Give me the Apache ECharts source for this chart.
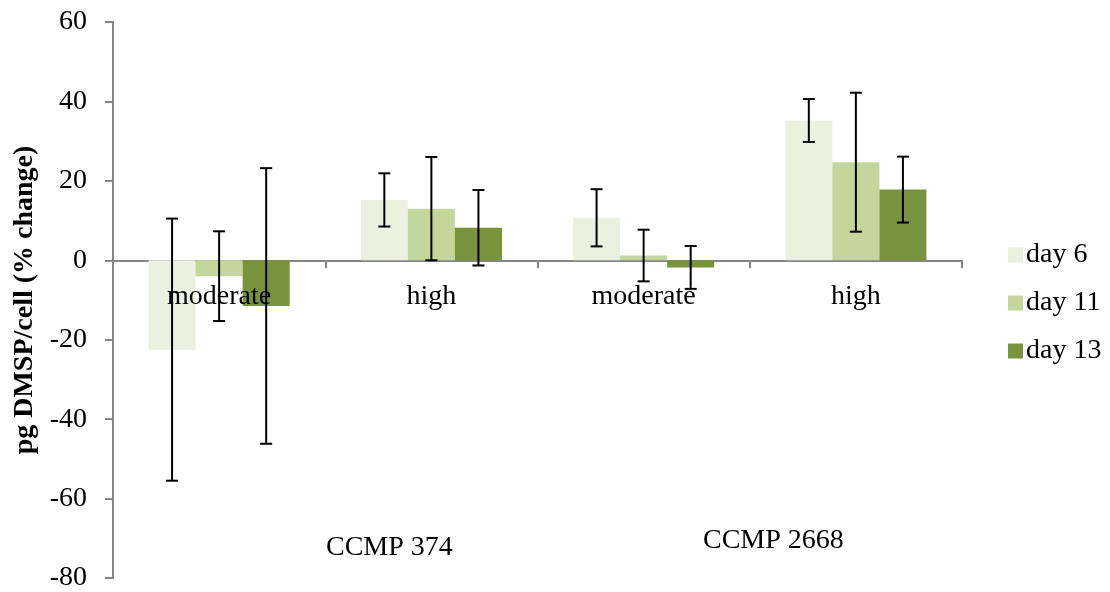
<!DOCTYPE html>
<html>
<head>
<meta charset="utf-8">
<script src="https://cdn.jsdelivr.net/npm/echarts@6/dist/echarts.min.js"></script>
<style>html,body{margin:0;padding:0;background:#fff}#c{width:1110px;height:592px}</style>
</head>
<body>
<div id="c"></div>
<script>
const categories = ['moderate', 'high', 'moderate', 'high'];
const groupLabels = ['CCMP 374', 'CCMP 2668'];
const seriesNames = ['day 6', 'day 11', 'day 13'];
const day6 = [-22.5, 15.2, 10.7, 35.2];
const day11 = [-4.0, 13.0, 1.2, 24.7];
const day13 = [-11.5, 8.2, -1.8, 17.8];
const err6 = [33.0, 6.7, 7.2, 5.4];
const err11 = [11.3, 13.0, 6.5, 17.5];
const err13 = [34.7, 9.5, 5.4, 8.3];
const colors = ['#EBF1DE', '#C3D69B', '#77933C'];

const FONT = '"Liberation Serif", "Times New Roman", serif';
const values = [day6, day11, day13];
const errs = [err6, err11, err13];
const GAP = 0.335;

const chart = echarts.init(document.getElementById('c'));

function errSeries(k) {
  return {
    type: 'custom',
    name: seriesNames[k] + ' err',
    silent: true,
    z: 10,
    data: values[k].map((v, i) => [i, v, errs[k][i]]),
    renderItem: function (params, api) {
      const i = api.value(0), v = api.value(1), e = api.value(2);
      const catW = api.size([1, 0])[0];
      const barW = catW * (1 - GAP) / 3;
      const cx = api.coord([i, v])[0] + (k - 1) * barW;
      const top = api.coord([i, v + e])[1];
      const bot = api.coord([i, v - e])[1];
      const cap = 6;
      const st = { stroke: '#000', lineWidth: 2 };
      return {
        type: 'group',
        children: [
          { type: 'line', shape: { x1: cx, y1: top, x2: cx, y2: bot }, style: st },
          { type: 'line', shape: { x1: cx - cap, y1: top, x2: cx + cap, y2: top }, style: st },
          { type: 'line', shape: { x1: cx - cap, y1: bot, x2: cx + cap, y2: bot }, style: st }
        ]
      };
    }
  };
}

const catLabelSeries = {
  type: 'custom',
  name: 'category labels',
  silent: true,
  z: 20,
  data: categories.map((c, i) => [i, 0]),
  renderItem: function (params, api) {
    const p = api.coord([api.value(0), 0]);
    return {
      type: 'text',
      x: p[0],
      y: p[1] + 22,
      style: { text: categories[params.dataIndex], font: '28px ' + FONT, fill: '#000', align: 'center', verticalAlign: 'top' }
    };
  }
};

const barSeries = seriesNames.map((n, k) => ({
  type: 'bar',
  name: n,
  data: values[k],
  barGap: '0%',
  barCategoryGap: (GAP * 100) + '%',
  itemStyle: { color: colors[k] },
  emphasis: { disabled: true }
}));

chart.setOption({
  animation: false,
  textStyle: { fontFamily: FONT },
  grid: { left: 113, right: 148, top: 22, bottom: 14, containLabel: false, outerBoundsMode: 'none' },
  legend: {
    data: seriesNames,
    orient: 'vertical',
    left: 1003,
    top: 236,
    itemWidth: 15,
    itemHeight: 15,
    itemGap: 20,
    icon: 'rect',
    textStyle: { fontFamily: FONT, fontSize: 28, color: '#000', lineHeight: 28, padding: [0, 0, 0, -2] }
  },
  xAxis: {
    type: 'category',
    data: categories,
    axisLine: { onZero: true, lineStyle: { color: '#868686', width: 2 } },
    axisTick: { show: true, length: 8, lineStyle: { color: '#868686', width: 2 } },
    axisLabel: { show: false },
    splitLine: { show: false }
  },
  yAxis: {
    type: 'value',
    min: -80,
    max: 60,
    interval: 20,
    name: 'pg DMSP/cell (% change)',
    nameLocation: 'middle',
    nameGap: 70,
    nameTextStyle: { fontFamily: FONT, fontSize: 28, fontWeight: 'bold', color: '#000' },
    axisLine: { show: true, lineStyle: { color: '#868686', width: 2 } },
    axisTick: { show: true, length: 8, lineStyle: { color: '#868686', width: 2 } },
    axisLabel: { fontFamily: FONT, fontSize: 28, color: '#000', margin: 26 },
    splitLine: { show: false }
  },
  graphic: [
    { type: 'text', left: 326, top: 534, z: 100, style: { text: groupLabels[0], font: '28px ' + FONT, fill: '#000' } },
    { type: 'text', left: 703, top: 527, z: 100, style: { text: groupLabels[1], font: '28px ' + FONT, fill: '#000' } }
  ],
  series: barSeries.concat([errSeries(0), errSeries(1), errSeries(2), catLabelSeries])
});
</script>
</body>
</html>
